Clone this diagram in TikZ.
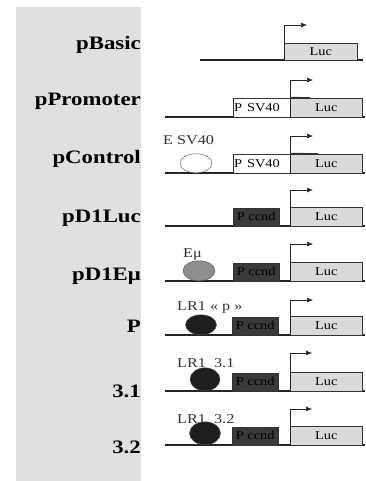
\documentclass[tikz,border=0pt]{standalone}
\usepackage{fontspec}
\setmainfont{Liberation Serif}
\usetikzlibrary{arrows.meta,shapes.geometric}

\definecolor{panelgray}{HTML}{E0E0E0}
\definecolor{lucgray}{HTML}{DADADA}
\definecolor{ccndgray}{HTML}{3A3A3A}
\definecolor{emugray}{HTML}{8E8E8E}
\definecolor{lronegray}{HTML}{1E1E1E}

\newcommand{\wider}[1]{\scalebox{1.2}[1]{#1}}

\begin{document}
\begin{tikzpicture}[x=1pt, y=-1pt,
    rowname/.style={anchor=base east, inner sep=0pt, font=\bfseries\fontsize{19}{19}\selectfont},
    dna/.style={draw=black!85, line width=1.1pt},
    lucbox/.style={draw=black!80, fill=lucgray, anchor=south west, inner sep=0pt,
        minimum width=72pt, minimum height=19pt, font=\fontsize{12}{12}\selectfont},
    svbox/.style={draw=black!80, fill=white, anchor=south west, inner xsep=1pt, inner ysep=0pt,
        text width=55pt, align=left, minimum height=19pt, font=\fontsize{12}{12}\selectfont},
    ccndbox/.style={draw=black!80, fill=ccndgray, anchor=south west, inner sep=0pt,
        minimum width=46pt, minimum height=18pt, text=black, font=\fontsize{12}{12}\selectfont},
    enh/.style={ellipse, draw=black!70, anchor=south, inner sep=0pt},
    enhname/.style={anchor=base west, inner sep=0pt, text=black!80, font=\fontsize{13.5}{13.5}\selectfont},
    start/.style={draw=black!85, semithick, -{Latex[length=6pt, width=5pt]}}]

    \useasboundingbox (0,0) rectangle (366,481);

    % Grey panel behind the construct names
    \fill[panelgray] (16,7) rectangle (141,481);

    % pBasic
    \node[rowname] (nbasic) at (141,50) {\wider{pBasic}};
    \coordinate (basicA) at (200,60);
    \coordinate (basicB) at (363,60);
    \draw[dna] (basicA) -- (basicB);
    \node[lucbox, minimum width=73pt, minimum height=17pt] (lucbasic) at (284,60) {\wider{Luc}};
    \coordinate (tipbasic) at (307,25);
    \draw[start] (lucbasic.south west) |- (tipbasic);

    % pPromoter
    \node[rowname] (npromoter) at (141,106) {\wider{pPromoter}};
    \coordinate (promA) at (165,117);
    \coordinate (promB) at (365,117);
    \draw[dna] (promA) -- (promB);
    \node[svbox] (svprom) at (233,117) {\wider{P SV40}};
    \node[lucbox] (lucprom) at (290,117) {\wider{Luc}};
    \coordinate (barprom) at (310,98);
    \draw[line width=1.6pt, black!80] (lucprom.north west) -- (barprom);
    \coordinate (tipprom) at (313,80);
    \draw[start] (lucprom.south west) |- (tipprom);

    % pControl
    \node[rowname] (ncontrol) at (141,164) {\wider{pControl}};
    \coordinate (contA) at (165,173);
    \coordinate (contB) at (365,173);
    \draw[dna] (contA) -- (contB);
    \node[enh, fill=white, minimum width=32pt, minimum height=19pt] (esv) at (196,173) {};
    \node[enhname] (nesv) at (163,145) {\wider{E SV40}};
    \node[svbox] (svcont) at (233,173) {\wider{P SV40}};
    \node[lucbox] (luccont) at (290,173) {\wider{Luc}};
    \coordinate (barcont) at (318,154);
    \draw[line width=1.6pt, black!80] (luccont.north west) -- (barcont);
    \coordinate (tipcont) at (313,136);
    \draw[start] (luccont.south west) |- (tipcont);

    % pD1Luc
    \node[rowname] (ndoneluc) at (141,222) {\wider{pD1Luc}};
    \coordinate (dlucA) at (165,226);
    \coordinate (dlucB) at (365,226);
    \draw[dna] (dlucA) -- (dlucB);
    \node[ccndbox] (ccnddluc) at (233,226) {\wider{P ccnd}};
    \node[lucbox] (lucdluc) at (290,226) {\wider{Luc}};
    \coordinate (tipdluc) at (313,190);
    \draw[start] (lucdluc.south west) |- (tipdluc);

    % pD1Emu
    \node[rowname] (ndoneemu) at (141,280) {\wider{pD1Eμ}};
    \coordinate (demuA) at (165,281);
    \coordinate (demuB) at (365,281);
    \draw[dna] (demuA) -- (demuB);
    \node[enh, fill=emugray, minimum width=32pt, minimum height=20pt] (emu) at (199,281) {};
    \node[enhname] (nemu) at (183,257) {\wider{Eμ}};
    \node[ccndbox] (ccnddemu) at (233,281) {\wider{P ccnd}};
    \node[lucbox] (lucdemu) at (290,281) {\wider{Luc}};
    \coordinate (tipdemu) at (313,244);
    \draw[start] (lucdemu.south west) |- (tipdemu);

    % P
    \node[rowname] (np) at (141,332) {\wider{P}};
    \coordinate (pA) at (165,335);
    \coordinate (pB) at (365,335);
    \draw[dna] (pA) -- (pB);
    \node[enh, fill=lronegray, minimum width=31pt, minimum height=20pt] (lrp) at (201,335) {};
    \node[enhname] (nlrp) at (177,310) {\wider{LR1 « p »}};
    \node[ccndbox] (ccndp) at (232,335) {\wider{P ccnd}};
    \node[lucbox] (lucp) at (290,335) {\wider{Luc}};
    \coordinate (tipp) at (313,300);
    \draw[start] (lucp.south west) |- (tipp);

    % 3.1
    \node[rowname] (nthreeone) at (141,397) {\wider{3.1}};
    \coordinate (toA) at (165,391);
    \coordinate (toB) at (365,391);
    \draw[dna] (toA) -- (toB);
    \node[enh, fill=lronegray, minimum width=30pt, minimum height=23pt] (lrto) at (205,391) {};
    \node[enhname] (nlrto) at (177,367) {\wider{LR1\ \ 3.1}};
    \node[ccndbox] (ccndto) at (232,391) {\wider{P ccnd}};
    \node[lucbox] (lucto) at (290,391) {\wider{Luc}};
    \coordinate (tipto) at (312,353);
    \draw[start] (lucto.south west) |- (tipto);

    % 3.2
    \node[rowname] (nthreetwo) at (141,453) {\wider{3.2}};
    \coordinate (ttA) at (165,445);
    \coordinate (ttB) at (365,445);
    \draw[dna] (ttA) -- (ttB);
    \node[enh, fill=lronegray, minimum width=31pt, minimum height=23pt] (lrtt) at (205,445) {};
    \node[enhname] (nlrtt) at (177,423) {\wider{LR1\ \ 3.2}};
    \node[ccndbox] (ccndtt) at (232,445) {\wider{P ccnd}};
    \node[lucbox] (luctt) at (290,445) {\wider{Luc}};
    \coordinate (tiptt) at (312,409);
    \draw[start] (luctt.south west) |- (tiptt);

\end{tikzpicture}
\end{document}
